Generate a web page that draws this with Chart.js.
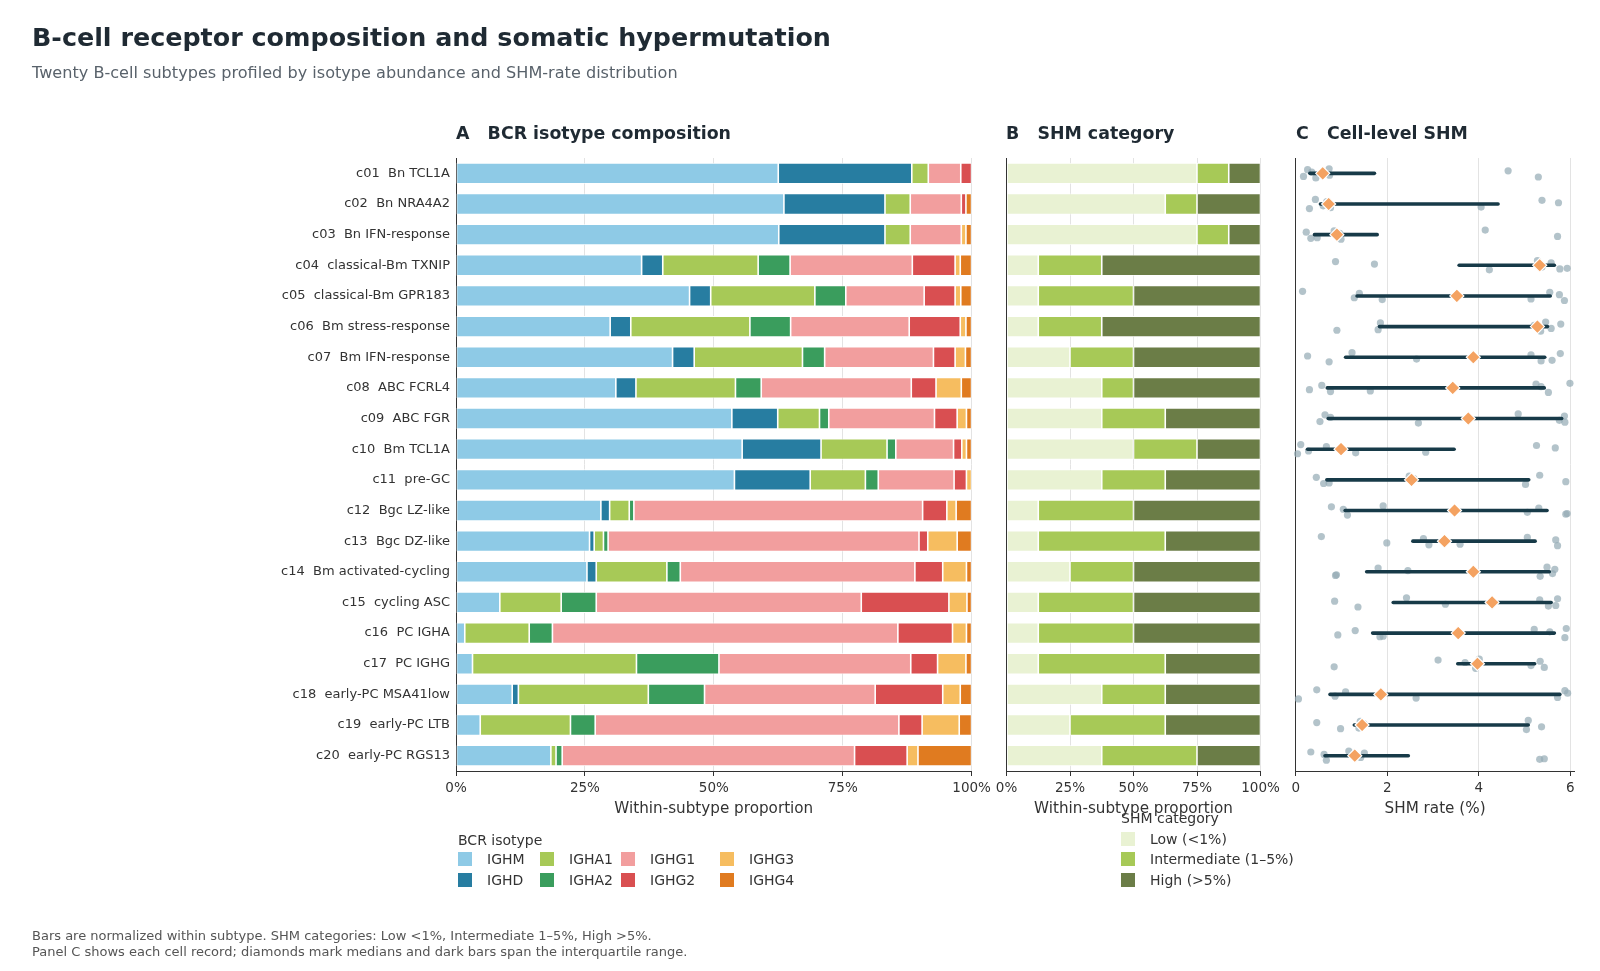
<!DOCTYPE html>
<html>
<head>
<meta charset="utf-8">
<script src="https://cdn.jsdelivr.net/npm/chart.js@4/dist/chart.umd.min.js"></script>
<style>
html,body{margin:0;padding:0;background:#fff;}
body{width:1600px;height:971px;position:relative;overflow:hidden;font-family:"DejaVu Sans",sans-serif;color:#222;}
canvas{position:absolute;left:0;top:0;}
.t{position:absolute;white-space:pre;}
.title{left:32px;top:22px;font-size:25.4px;line-height:30px;font-weight:bold;color:#1f2a33;}
.sub{left:32px;top:63px;font-size:16.1px;line-height:19px;color:#59626b;}
.ptitle{top:123px;font-size:17.4px;line-height:21px;font-weight:bold;color:#1f2a33;}
.foot{left:32px;font-size:13px;line-height:15px;color:#555;}
.lgtitle{font-size:14px;line-height:17px;color:#333;}
.lgitem{font-size:14px;line-height:16px;color:#333;}
.sw{position:absolute;width:14px;height:14px;}
</style>
</head>
<body>
<canvas id="cA" width="1600" height="971"></canvas>
<canvas id="cB" width="1600" height="971"></canvas>
<canvas id="cC" width="1600" height="971"></canvas>

<div class="t title">B-cell receptor composition and somatic hypermutation</div>
<div class="t sub">Twenty B-cell subtypes profiled by isotype abundance and SHM-rate distribution</div>
<div class="t ptitle" style="left:456px">A   BCR isotype composition</div>
<div class="t ptitle" style="left:1006px">B   SHM category</div>
<div class="t ptitle" style="left:1296px">C   Cell-level SHM</div>
<div class="t foot" style="top:928px">Bars are normalized within subtype. SHM categories: Low &lt;1%, Intermediate 1–5%, High &gt;5%.</div>
<div class="t foot" style="top:944px">Panel C shows each cell record; diamonds mark medians and dark bars span the interquartile range.</div>
<div id="legA"></div>
<div id="legB"></div>

<script>
// ---------------- data ----------------
const subtypes = [
  "c01  Bn TCL1A", "c02  Bn NRA4A2", "c03  Bn IFN-response", "c04  classical-Bm TXNIP",
  "c05  classical-Bm GPR183", "c06  Bm stress-response", "c07  Bm IFN-response", "c08  ABC FCRL4",
  "c09  ABC FGR", "c10  Bm TCL1A", "c11  pre-GC", "c12  Bgc LZ-like", "c13  Bgc DZ-like",
  "c14  Bm activated-cycling", "c15  cycling ASC", "c16  PC IGHA", "c17  PC IGHG",
  "c18  early-PC MSA41low", "c19  early-PC LTB", "c20  early-PC RGS13"
];
const isotypes = ["IGHM", "IGHD", "IGHA1", "IGHA2", "IGHG1", "IGHG2", "IGHG3", "IGHG4"];
const IGHM  = [62.5, 63.6, 62.6, 36.0, 45.3, 29.9, 42.0, 31.0, 53.5, 55.5, 54.0, 28.1, 25.9, 25.4, 8.5, 1.7, 3.2, 10.9, 4.7, 18.4];
const IGHD  = [25.9, 19.6, 20.6, 4.1, 4.1, 4.0, 4.2, 3.9, 8.9, 15.3, 14.7, 1.7, 0.9, 1.8, 0, 0, 0, 1.2, 0, 0];
const IGHA1 = [3.2, 4.9, 4.9, 18.5, 20.2, 23.1, 21.0, 19.3, 8.1, 12.8, 10.7, 3.8, 1.8, 13.7, 11.9, 12.5, 31.8, 25.2, 17.5, 1.0];
const IGHA2 = [0, 0, 0, 6.2, 6.0, 7.9, 4.3, 5.0, 1.8, 1.7, 2.5, 0.9, 0.9, 2.6, 6.8, 4.5, 16.0, 10.9, 4.8, 1.2];
const IGHG1 = [6.3, 9.9, 9.9, 23.7, 15.2, 23.0, 21.1, 29.1, 20.5, 11.2, 14.7, 56.0, 60.3, 45.5, 51.4, 67.0, 37.2, 33.1, 58.9, 56.7];
const IGHG2 = [2.1, 0.9, 0, 8.3, 6.0, 9.9, 4.2, 4.8, 4.4, 1.6, 2.4, 4.7, 1.7, 5.4, 17.0, 10.6, 5.2, 13.1, 4.5, 10.2];
const IGHG3 = [0, 0, 0.9, 1.0, 1.1, 1.1, 2.0, 4.9, 1.8, 0.9, 1.0, 1.8, 5.7, 4.6, 3.5, 2.7, 5.5, 3.4, 7.2, 2.1];
const IGHG4 = [0, 1.1, 1.1, 2.2, 2.1, 1.1, 1.2, 2.0, 1.0, 1.0, 0, 3.0, 2.8, 1.0, 0.9, 1.0, 1.1, 2.2, 2.4, 10.4];

const shmCategories = ["Low (<1%)", "Intermediate (1–5%)", "High (>5%)"];
const shmLow  = [75, 62.5, 75, 12.5, 12.5, 12.5, 25, 37.5, 37.5, 50, 37.5, 12.5, 12.5, 25, 12.5, 12.5, 12.5, 37.5, 25, 37.5];
const shmInt  = [12.5, 12.5, 12.5, 25, 37.5, 25, 25, 12.5, 25, 25, 25, 37.5, 50, 25, 37.5, 37.5, 50, 25, 37.5, 37.5];
const shmHigh = [12.5, 25, 12.5, 62.5, 50, 62.5, 50, 50, 37.5, 25, 37.5, 50, 37.5, 50, 50, 50, 37.5, 37.5, 37.5, 25];

// per-cell SHM rate (%) for each subtype, c01..c20
const cellShm = [
  [0.17, 0.26, 0.35, 0.44, 0.73, 0.74, 4.64, 5.30],
  [0.30, 0.43, 0.60, 0.68, 0.76, 4.05, 5.38, 5.74],
  [0.23, 0.33, 0.47, 0.84, 0.96, 0.99, 4.14, 5.72],
  [0.87, 1.72, 4.23, 5.28, 5.38, 5.58, 5.77, 5.93],
  [0.15, 1.28, 1.39, 1.89, 5.14, 5.55, 5.76, 5.87],
  [0.90, 1.80, 1.85, 5.21, 5.35, 5.46, 5.58, 5.79],
  [0.26, 0.73, 1.23, 2.64, 5.14, 5.36, 5.60, 5.78],
  [0.30, 0.57, 0.76, 1.63, 5.25, 5.36, 5.52, 5.99],
  [0.53, 0.64, 0.76, 2.68, 4.86, 5.76, 5.87, 5.88],
  [0.04, 0.11, 0.28, 0.67, 1.31, 2.84, 5.26, 5.67],
  [0.45, 0.61, 0.73, 2.48, 2.58, 5.02, 5.33, 5.90],
  [0.78, 1.04, 1.13, 1.91, 5.06, 5.31, 5.90, 5.93],
  [0.56, 1.99, 2.79, 2.91, 3.59, 5.06, 5.68, 5.72],
  [0.87, 0.89, 1.80, 2.45, 5.34, 5.49, 5.61, 5.66],
  [0.85, 1.36, 2.42, 3.27, 5.33, 5.52, 5.68, 5.72],
  [0.92, 1.30, 1.84, 1.91, 5.21, 5.55, 5.88, 5.91],
  [0.84, 3.11, 3.70, 3.93, 4.01, 5.14, 5.34, 5.43],
  [0.06, 0.46, 0.86, 1.09, 2.63, 5.72, 5.88, 5.94],
  [0.46, 0.98, 1.38, 1.41, 1.49, 5.04, 5.08, 5.37],
  [0.33, 0.62, 0.67, 1.16, 1.42, 1.50, 5.33, 5.43]
];
const shmMedian = [0.59, 0.72, 0.90, 5.33, 3.52, 5.28, 3.88, 3.43, 3.77, 0.99, 2.53, 3.47, 3.25, 3.88, 4.29, 3.55, 3.97, 1.86, 1.45, 1.29];
const shmQ1     = [0.31, 0.54, 0.41, 3.57, 1.34, 1.83, 1.09, 0.69, 0.71, 0.26, 0.68, 1.08, 2.56, 1.55, 2.13, 1.68, 3.54, 0.75, 1.28, 0.64];
const shmQ3     = [1.72, 4.42, 1.78, 5.65, 5.56, 5.50, 5.44, 5.43, 5.81, 3.46, 5.09, 5.49, 5.23, 5.54, 5.58, 5.65, 5.22, 5.77, 5.08, 2.46];

const pctTicks  = [0, 25, 50, 75, 100];
const rateTicks = [0, 2, 4, 6];

// ---------------- styles ----------------
const isoColors = ["#8ecae6", "#277da1", "#a7c957", "#3a9d5d", "#f29e9e", "#d94f51", "#f6bd60", "#e07b20"];
const shmColors = ["#e9f2d3", "#a7c957", "#6b7d47"];
const jitter = [0.10, -0.12, -0.04, 0.15, -0.15, 0.06, -0.08, 0.12];

Chart.defaults.font.family = '"DejaVu Sans", sans-serif';
Chart.defaults.color = '#333';
Chart.defaults.animation = false;

const TOP = 158, BOTTOM = 771, XAX_H = 50;
const A_L = 456, A_R = 971.6, B_L = 1006.5, B_R = 1260.5, C_L = 1295.7, C_R = 1574.5;
const YLAB_W = 220;
const TICK_FONT = { size: 13.5 }, AXT_FONT = { size: 15.2 };

const fixX = h => s => { s.height = h; s.paddingLeft = 0; s.paddingRight = 0; };
const fixY = w => s => { s.width = w; s.paddingTop = 0; s.paddingBottom = 0; };
const pad = (l, r, yw) => ({ left: l - yw, right: 1600 - r, top: TOP, bottom: 971 - BOTTOM - XAX_H });

function xScale(opts, titleText, cb) {
  return Object.assign({
    type: 'linear',
    afterFit: fixX(XAX_H),
    grid: { color: '#e3e3e3', lineWidth: 1, tickColor: '#333', tickLength: 5, drawTicks: true },
    border: { color: '#333', width: 1 },
    ticks: { font: TICK_FONT, color: '#333', padding: 4, maxRotation: 0, autoSkip: false, callback: cb },
    title: { display: true, text: titleText, font: AXT_FONT, color: '#333', padding: { top: 0, bottom: 3 } }
  }, opts);
}
const basePlugins = { legend: { display: false }, tooltip: { enabled: false } };

// ---------------- Panel A ----------------
const isoSeries = [IGHM, IGHD, IGHA1, IGHA2, IGHG1, IGHG2, IGHG3, IGHG4];
new Chart(document.getElementById('cA'), {
  type: 'bar',
  data: {
    labels: subtypes,
    datasets: isotypes.map((name, k) => ({
      label: name, data: isoSeries[k], backgroundColor: isoColors[k],
      borderColor: '#ffffff', borderWidth: 0.8, borderSkipped: false,
      barPercentage: 0.685, categoryPercentage: 1.0
    }))
  },
  options: {
    indexAxis: 'y', responsive: false, devicePixelRatio: 1,
    layout: { padding: pad(A_L, A_R, YLAB_W) },
    plugins: basePlugins,
    scales: {
      x: xScale({
        stacked: true, min: 0, max: 100,
        afterBuildTicks: s => { s.ticks = pctTicks.map(v => ({ value: v })); }
      }, 'Within-subtype proportion', v => v + '%'),
      y: {
        type: 'category', stacked: true, offset: true,
        afterFit: fixY(YLAB_W),
        grid: { display: false, drawTicks: false },
        border: { display: true, color: '#333', width: 1 },
        ticks: { font: { size: 13 }, color: '#333', padding: 6, autoSkip: false }
      }
    }
  }
});

// ---------------- Panel B ----------------
const shmSeries = [shmLow, shmInt, shmHigh];
new Chart(document.getElementById('cB'), {
  type: 'bar',
  data: {
    labels: subtypes,
    datasets: shmCategories.map((name, k) => ({
      label: name, data: shmSeries[k], backgroundColor: shmColors[k],
      borderColor: '#ffffff', borderWidth: 0.8, borderSkipped: false,
      barPercentage: 0.685, categoryPercentage: 1.0
    }))
  },
  options: {
    indexAxis: 'y', responsive: false, devicePixelRatio: 1,
    layout: { padding: pad(B_L, B_R, 0) },
    plugins: basePlugins,
    scales: {
      x: xScale({
        stacked: true, min: 0, max: 100,
        afterBuildTicks: s => { s.ticks = pctTicks.map(v => ({ value: v })); }
      }, 'Within-subtype proportion', v => v + '%'),
      y: {
        type: 'category', stacked: true, offset: true,
        afterFit: fixY(0),
        grid: { display: false, drawTicks: false },
        border: { display: true, color: '#333', width: 1 },
        ticks: { display: false }
      }
    }
  }
});

// ---------------- Panel C ----------------
const cellPoints = [];
cellShm.forEach((row, i) => row.forEach((v, j) => cellPoints.push({ x: v, y: i + jitter[(j + 3 * i) % jitter.length] })));
const iqrSets = subtypes.map((s, i) => ({
  type: 'scatter', showLine: true, order: 1, clip: false,
  data: [{ x: shmQ1[i], y: i }, { x: shmQ3[i], y: i }],
  borderColor: '#173a48', borderWidth: 3.6, borderCapStyle: 'round',
  pointRadius: 0, pointHoverRadius: 0
}));
new Chart(document.getElementById('cC'), {
  type: 'scatter',
  data: {
    datasets: [
      {
        label: 'median', order: 0, clip: false,
        data: shmMedian.map((m, i) => ({ x: m, y: i })),
        pointStyle: 'rectRot', pointRadius: 7, backgroundColor: '#f4a261',
        borderColor: '#ffffff', borderWidth: 1.2
      },
      ...iqrSets,
      {
        label: 'cells', order: 2, clip: false,
        data: cellPoints,
        pointRadius: 3.6, backgroundColor: 'rgba(150,172,182,0.72)', borderWidth: 0
      }
    ]
  },
  options: {
    responsive: false, devicePixelRatio: 1,
    layout: { padding: pad(C_L, C_R, 0) },
    plugins: basePlugins,
    scales: {
      x: xScale({
        min: 0, max: 6.09,
        afterBuildTicks: s => { s.ticks = rateTicks.map(v => ({ value: v })); }
      }, 'SHM rate (%)', v => String(v)),
      y: {
        type: 'linear', min: -0.5, max: 19.5, reverse: true,
        afterFit: fixY(0),
        grid: { display: false, drawTicks: false },
        border: { display: true, color: '#333', width: 1 },
        ticks: { display: false }
      }
    }
  }
});

// ---------------- legends (HTML) ----------------
function addText(parent, cls, text, left, top) {
  const d = document.createElement('div');
  d.className = 't ' + cls; d.textContent = text;
  d.style.left = left + 'px'; d.style.top = top + 'px';
  parent.appendChild(d);
}
function addSwatch(parent, color, left, cy) {
  const d = document.createElement('div');
  d.className = 'sw'; d.style.background = color;
  d.style.left = left + 'px'; d.style.top = (cy - 7) + 'px';
  parent.appendChild(d);
}
const legA = document.getElementById('legA');
addText(legA, 'lgtitle', 'BCR isotype', 458, 831.5);
const legACols = [458, 540, 621, 720];
const legARows = [859, 880];
isotypes.forEach((name, k) => {
  const col = Math.floor(k / 2), row = k % 2;
  addSwatch(legA, isoColors[k], legACols[col], legARows[row]);
  addText(legA, 'lgitem', name, legACols[col] + 29, legARows[row] - 8);
});
const legB = document.getElementById('legB');
addText(legB, 'lgtitle', 'SHM category', 1121, 809.5);
const legBRows = [839, 859, 880];
shmCategories.forEach((name, k) => {
  addSwatch(legB, shmColors[k], 1121, legBRows[k]);
  addText(legB, 'lgitem', name, 1150, legBRows[k] - 8);
});
</script>
</body>
</html>
